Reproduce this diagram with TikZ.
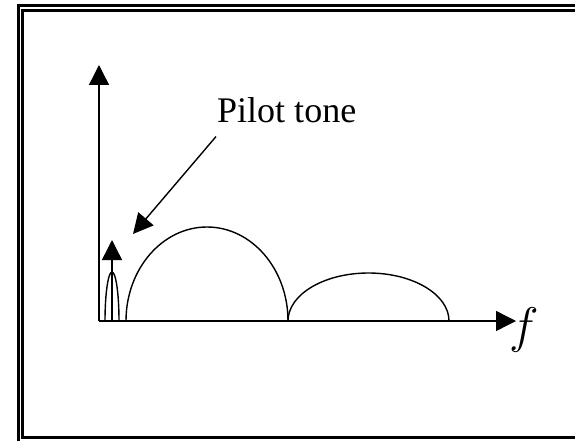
\RequirePackage{fix-cm}
\documentclass[tikz,border=0pt]{standalone}
\usepackage{fontspec}
\setmainfont{Liberation Serif}
\usetikzlibrary{arrows.meta,positioning}
\tikzset{
  ptaxis/.style={-{Triangle[length=20pt,width=20pt]}, line width=1.4pt},
  ptarrow/.style={-{Triangle[length=20pt,width=20pt]}, line width=1.4pt},
  pthump/.style={line width=1.4pt},
  ptframe/.style={line width=3pt},
  ptlabel/.style={inner sep=0pt, font=\fontsize{36}{40}\selectfont},
}

\begin{document}
\begin{tikzpicture}[x=1pt,y=1pt]
  \useasboundingbox (0,0) rectangle (575,440);
  % double frame, cut by the page edge
  \begin{scope}
    \clip (0,0) rectangle (575,440);
    \draw[ptframe] (18,434.5) rectangle (590,-3);
    \draw[ptframe] (22.5,429.5) rectangle (585,3);
  \end{scope}

  \coordinate (o) at (99,119);
  \coordinate (ytop) at (99,375);
  \coordinate (xtip) at (516,119);
  \coordinate (pilot) at (112,200);
  \coordinate (ptip) at (133,206);
  \node[ptlabel, anchor=base west] (label) at (217,318) {Pilot tone};
  \node[ptlabel, anchor=base west, font=\fontsize{50}{54}\selectfont] (f) at (509,98) {$f$};

  % axes
  \draw[ptaxis] (o) -- (ytop);
  \draw[ptaxis] (o) -- (xtip);

  % pilot tone and its spectrum
  \draw[ptarrow] (o -| pilot) -- (pilot);
  \draw[ptarrow] ([shift={(-1,-14)}]label.south west) -- (ptip);
  \draw[pthump] (105,119) arc[start angle=180, end angle=0, x radius=7, y radius=49];
  \draw[pthump] (126,119) arc[start angle=180, end angle=0, x radius=81, y radius=94];
  \draw[pthump] (288,119) arc[start angle=180, end angle=0, x radius=80.5, y radius=48];
\end{tikzpicture}
\end{document}
